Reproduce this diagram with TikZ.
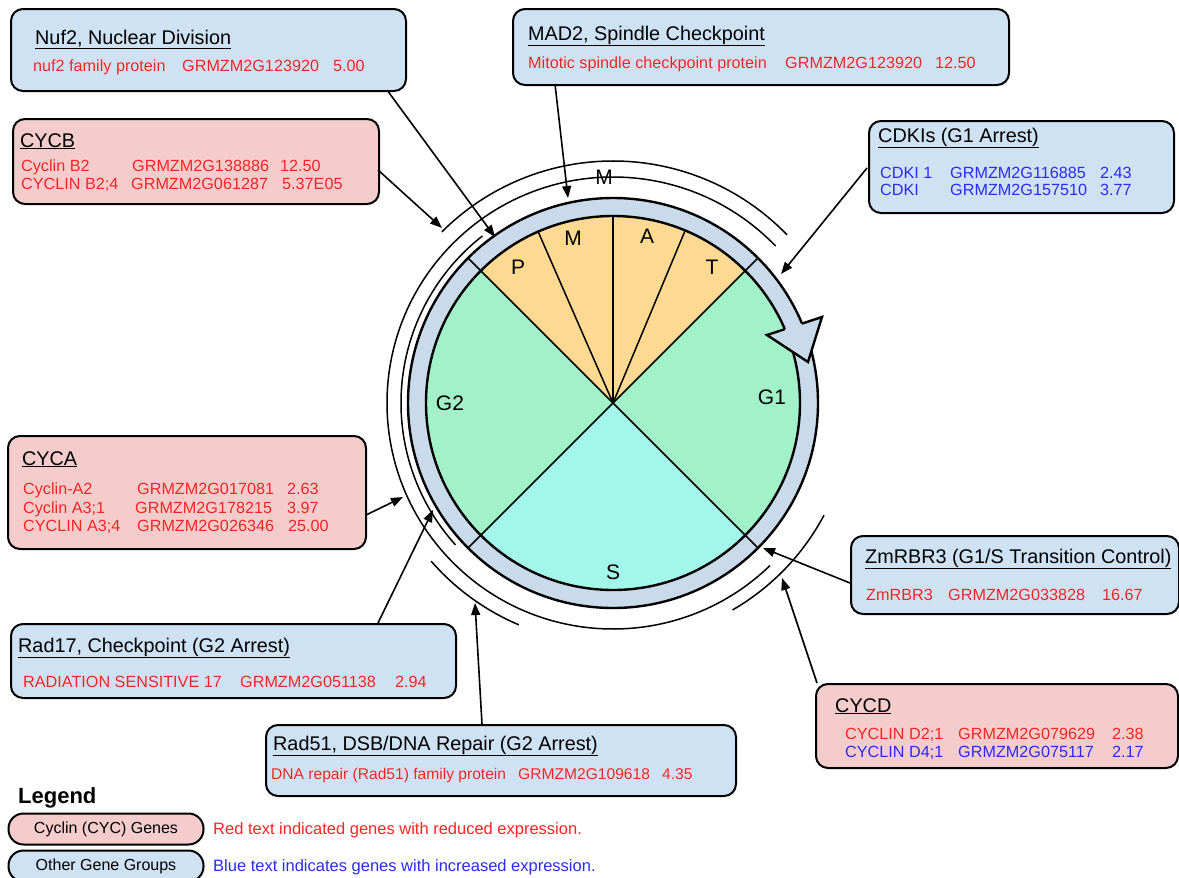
\documentclass[tikz,border=0pt]{standalone}
\usepackage{fontspec}
\setmainfont{Liberation Sans}
\usetikzlibrary{arrows.meta,shapes.geometric,calc}
\definecolor{boxblue}{HTML}{CFE2F3}
\definecolor{boxpink}{HTML}{F4CCCC}
\definecolor{ringblue}{HTML}{C9DAEA}
\definecolor{phaseorange}{HTML}{FDD992}
\definecolor{phasegreen}{HTML}{A3F1C8}
\definecolor{phasecyan}{HTML}{A2F6EA}
\definecolor{txtred}{HTML}{FF2424}
\definecolor{txtblue}{HTML}{2B2BFF}
\tikzset{
  box/.style={draw=black, line width=2pt, rounded corners=12pt, inner sep=0pt, anchor=north west},
  bluebox/.style={box, fill=boxblue},
  pinkbox/.style={box, fill=boxpink},
  ttl/.style={anchor=base west, inner sep=0pt, font=\fontsize{19.8}{22}\selectfont},
  rt/.style={anchor=base west, inner sep=0pt, text=txtred, font=\fontsize{16.2}{18}\selectfont},
  bt/.style={anchor=base west, inner sep=0pt, text=txtblue, font=\fontsize{16.2}{18}\selectfont},
  lt/.style={anchor=west, inner sep=0pt, font=\fontsize{16.5}{18}\selectfont},
  phase/.style={inner sep=0pt, font=\fontsize{21}{24}\selectfont},
  conn/.style={-{Triangle[length=12pt,width=9pt]}, line width=1.6pt},
  arcline/.style={line width=1.5pt},
  ringline/.style={line width=2.4pt},
  secline/.style={line width=1.5pt},
  lgpill/.style={rectangle, rounded corners=15pt, draw=black, line width=2pt, inner sep=0pt, minimum width=195pt, font=\fontsize{16}{18}\selectfont},
}
\begin{document}
\begin{tikzpicture}[x=1pt,y=1pt]
\useasboundingbox (0,0) rectangle (1179,-878);
\fill[white] (0,0) rectangle (1179,-878);
\coordinate (C) at (613,-403);
% pie
\fill[phasegreen] (C) -- ++(-45:187) arc[start angle=-45,end angle=45,radius=187] -- cycle;
\fill[phaseorange] (C) -- ++(45:187) arc[start angle=45,end angle=135,radius=187] -- cycle;
\fill[phasegreen] (C) -- ++(135:187) arc[start angle=135,end angle=225,radius=187] -- cycle;
\fill[phasecyan] (C) -- ++(225:187) arc[start angle=225,end angle=315,radius=187] -- cycle;
\fill[ringblue,even odd rule] (C) circle[radius=205] (C) circle[radius=187];
\foreach \a in {45,135,225,315} \draw[secline] (C) -- ++(\a:205);
\foreach \a in {67.3,90,113.6} \draw[secline] (C) -- ++(\a:187);
\draw[ringline] (C) circle[radius=205];
\draw[ringline] (C) circle[radius=187];
% ring arrowhead
\fill[ringblue] ($(C)+(154,68)$) -- ($(C)+(209,86)$) -- ($(C)+(195,41)$) -- cycle;
\draw[ringline, line join=miter] ($(C)+(171.8,73.8)$) -- ($(C)+(154,68)$) -- ($(C)+(195,41)$) -- ($(C)+(209,86)$) -- ($(C)+(189,79.4)$);
% phase labels
\node[phase] (lP) at (518,-267) {P};
\node[phase] (lM) at (573,-238) {M};
\node[phase] (lA) at (647,-236) {A};
\node[phase] (lT) at (712,-267) {T};
\node[phase] (lG2) at (450,-403) {G2};
\node[phase] (lG1) at (772,-397) {G1};
\node[phase] (lS) at (613,-572) {S};
% outer arcs
\draw[arcline] (C) ++(44:242) arc[start angle=44,end angle=135,radius=242];
\draw[arcline] (C) ++(44:226) arc[start angle=44,end angle=314,radius=226];
\draw[arcline] (C) ++(128:212) arc[start angle=128,end angle=222,radius=212];
\draw[arcline] (C) ++(221:241) arc[start angle=221,end angle=247,radius=241];
\draw[arcline] (C) ++(300:239) arc[start angle=300,end angle=332,radius=239];
\node[phase] (lMtop) at (604,-177) {M};
% boxes
\node[bluebox, minimum width=395pt, minimum height=82pt] (nuf2) at (10,-8) {};
\node[ttl] at (35,-44) {\underline{Nuf2, Nuclear Division}};
\node[rt] at (33,-71) {nuf2 family protein};
\node[rt] at (182,-71) {GRMZM2G123920};
\node[rt] at (333,-71) {5.00};

\node[pinkbox, minimum width=366pt, minimum height=85pt] (cycb) at (12,-118) {};
\node[ttl] at (20,-147) {\underline{CYCB}};
\node[rt] at (21,-171) {Cyclin B2};
\node[rt] at (132,-171) {GRMZM2G138886};
\node[rt] at (280,-171) {12.50};
\node[rt] at (21,-189) {CYCLIN B2;4};
\node[rt] at (131,-189) {GRMZM2G061287};
\node[rt] at (282,-189) {5.37E05};

\node[bluebox, minimum width=496pt, minimum height=76pt] (mad2) at (512,-8) {};
\node[ttl] at (528,-40) {\underline{MAD2, Spindle Checkpoint}};
\node[rt] at (528,-68) {Mitotic spindle checkpoint protein};
\node[rt] at (785,-68) {GRMZM2G123920};
\node[rt] at (935,-68) {12.50};

\node[bluebox, minimum width=305pt, minimum height=92pt] (cdki) at (868,-120) {};
\node[ttl] at (878,-142) {\underline{CDKIs (G1 Arrest)}};
\node[bt] at (880,-178) {CDKI 1};
\node[bt] at (950,-178) {GRMZM2G116885};
\node[bt] at (1100,-178) {2.43};
\node[bt] at (880,-195) {CDKI};
\node[bt] at (950,-195) {GRMZM2G157510};
\node[bt] at (1100,-195) {3.77};

\node[pinkbox, minimum width=358pt, minimum height=113pt] (cyca) at (7,-435) {};
\node[ttl] at (22,-465) {\underline{CYCA}};
\node[rt] at (23,-494) {Cyclin-A2};
\node[rt] at (137,-494) {GRMZM2G017081};
\node[rt] at (287,-494) {2.63};
\node[rt] at (23,-513) {Cyclin A3;1};
\node[rt] at (135,-513) {GRMZM2G178215};
\node[rt] at (287,-513) {3.97};
\node[rt] at (23,-531) {CYCLIN A3;4};
\node[rt] at (137,-531) {GRMZM2G026346};
\node[rt] at (288,-531) {25.00};

\node[bluebox, minimum width=445pt, minimum height=74pt] (rad17) at (10,-623) {};
\node[ttl] at (18,-652) {\underline{Rad17, Checkpoint (G2 Arrest)}};
\node[rt] at (23,-687) {RADIATION SENSITIVE 17};
\node[rt] at (240,-687) {GRMZM2G051138};
\node[rt] at (395,-687) {2.94};

\node[bluebox, minimum width=470pt, minimum height=71pt] (rad51) at (265,-724) {};
\node[ttl] at (273,-750) {\underline{Rad51, DSB/DNA Repair (G2 Arrest)}};
\node[rt, font=\fontsize{15.6}{18}\selectfont] at (271,-779) {DNA repair (Rad51) family protein};
\node[rt, font=\fontsize{15.6}{18}\selectfont] at (518,-779) {GRMZM2G109618};
\node[rt, font=\fontsize{15.6}{18}\selectfont] at (662,-779) {4.35};

\node[bluebox, minimum width=328pt, minimum height=78pt] (zmrbr) at (850,-535) {};
\node[ttl] at (865,-563) {\underline{ZmRBR3 (G1/S Transition Control)}};
\node[rt] at (866,-600) {ZmRBR3};
\node[rt] at (948,-600) {GRMZM2G033828};
\node[rt] at (1102,-600) {16.67};

\node[pinkbox, minimum width=362pt, minimum height=84pt] (cycd) at (815,-683) {};
\node[ttl] at (835,-712) {\underline{CYCD}};
\node[rt] at (845,-739) {CYCLIN D2;1};
\node[rt] at (958,-739) {GRMZM2G079629};
\node[rt] at (1112,-739) {2.38};
\node[bt] at (845,-757) {CYCLIN D4;1};
\node[bt] at (958,-757) {GRMZM2G075117};
\node[bt] at (1112,-757) {2.17};

% connectors
\coordinate (s1) at (387,-90);  \coordinate (t1) at (495,-237);
\coordinate (s2) at (378,-170); \coordinate (t2) at (442,-228);
\coordinate (s3) at (555,-84);  \coordinate (t3) at (568,-198);
\coordinate (s4) at (867,-168); \coordinate (t4) at (781,-274);
\coordinate (s5) at (366,-515); \coordinate (t5) at (403,-497);
\coordinate (s6) at (378,-623); \coordinate (t6) at (433,-510);
\coordinate (s7) at (482,-724); \coordinate (t7) at (475,-603);
\coordinate (s8) at (850,-583); \coordinate (t8) at (763,-548);
\coordinate (s9) at (817,-683); \coordinate (t9) at (782,-578);
\foreach \i in {1,...,9} \draw[conn] (s\i) -- (t\i);

% legend
\node[anchor=base west, inner sep=0pt, font=\bfseries\fontsize{22}{24}\selectfont] (lgt) at (18,-803) {Legend};
\node[lgpill, fill=boxpink, minimum height=31pt] (lg1) at (106,-829) {Cyclin (CYC) Genes};
\node[lgpill, fill=boxblue, minimum height=31pt] (lg2) at (106,-866) {Other Gene Groups};
\node[lt, text=txtred] (lg1t) at (213,-830) {Red text indicated genes with reduced expression.};
\node[lt, text=txtblue] (lg2t) at (213,-867) {Blue text indicates genes with increased expression.};
\end{tikzpicture}
\end{document}
